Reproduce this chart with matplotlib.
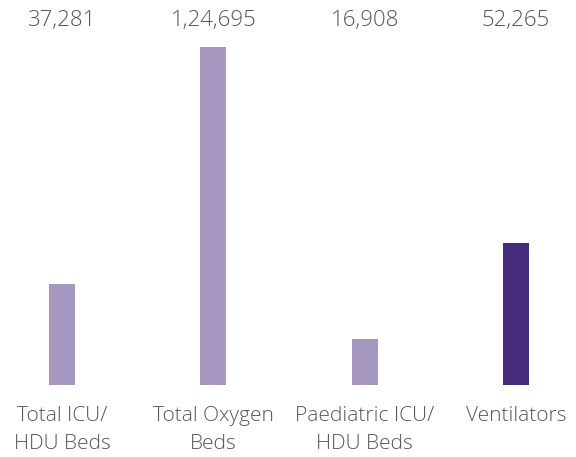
import matplotlib
matplotlib.use("Agg")
import matplotlib.pyplot as plt
import matplotlib.transforms as mtransforms

categories = ["Total ICU/\nHDU Beds", "Total Oxygen\nBeds", "Paediatric ICU/\nHDU Beds", "Ventilators"]
values = [37281, 124695, 16908, 52265]
value_labels = ["37,281", "1,24,695", "16,908", "52,265"]
colors = ["#a597bf", "#a597bf", "#a597bf", "#462b7a"]

plt.rcParams['font.family'] = ['Open Sans', 'DejaVu Sans']

fig = plt.figure(figsize=(5.76, 4.57), dpi=100)
ax = fig.add_axes([0, 0.1575, 1, 0.7396])

x = range(len(values))
ax.bar(x, values, width=0.172, color=colors)
ax.set_xlim(-0.41, 3.397)
ax.set_ylim(0, max(values))

ax.set_xticks(list(x))
ax.set_xticklabels(categories, fontsize=15, color="#555555", linespacing=1.55,
                   fontweight="light")
ax.tick_params(axis="x", length=0, pad=15)
ax.set_yticks([])
for s in ax.spines.values():
    s.set_visible(False)

# value labels sit in a row at the top of the figure
trans = mtransforms.blended_transform_factory(ax.transData, fig.transFigure)
for i, lab in enumerate(value_labels):
    ax.text(i, 0.955, lab, transform=trans, ha="center", va="center",
            fontsize=16, color="#555555", fontweight="light")

fig.savefig("out.png", dpi=100)
